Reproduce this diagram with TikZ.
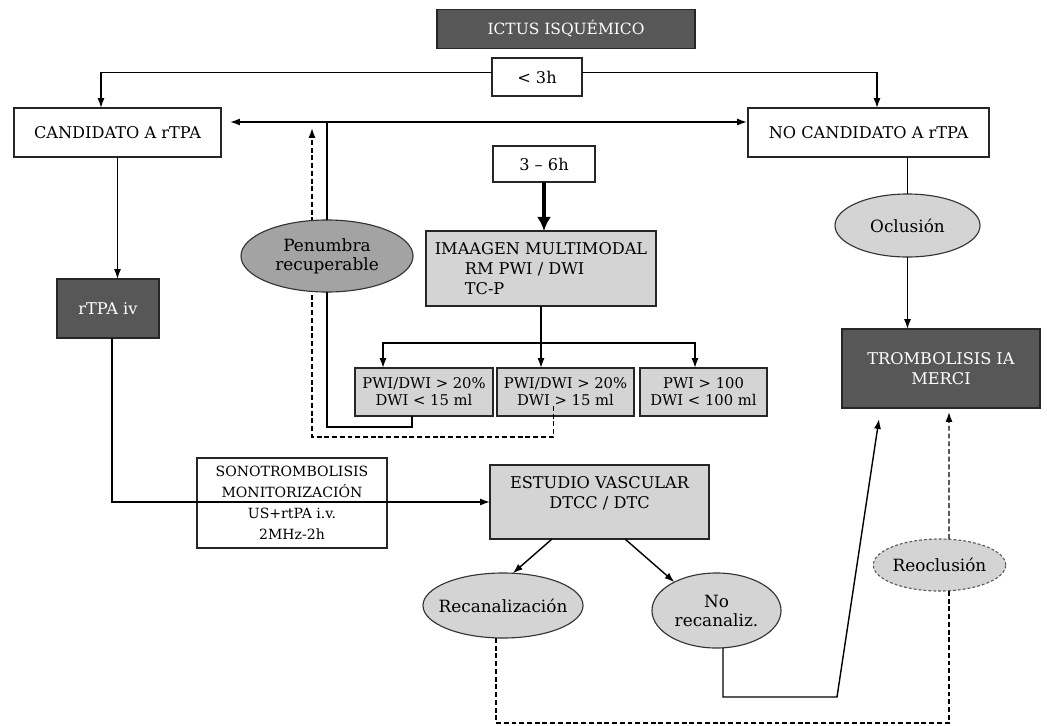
\documentclass[tikz,border=0pt]{standalone}
\usepackage{fontspec}
\setmainfont{DejaVu Serif}
\usetikzlibrary{calc,shapes.geometric,arrows.meta}

\definecolor{boxdark}{HTML}{575757}
\definecolor{boxlight}{HTML}{D4D4D4}
\definecolor{boxmid}{HTML}{A3A3A3}

\begin{document}
\begin{tikzpicture}[x=0.025cm, y=-0.025cm, inner sep=0pt, outer sep=0pt,
    every node/.style={font=\fontsize{11.5}{14}\selectfont},
    >={Latex[length=7pt,width=5pt]},
    plainbox/.style={draw=black!85, line width=1.1pt, fill=white, align=center},
    greybox/.style={plainbox, fill=boxlight},
    darkbox/.style={plainbox, fill=boxdark, text=white},
    smalltxt/.style={font=\fontsize{10.5}{12}\selectfont},
    bubble/.style={ellipse, draw=black!80, line width=0.8pt, fill=boxlight, align=center, font=\fontsize{12}{13.5}\selectfont},
    wire/.style={line width=1pt},
    link/.style={wire, ->},
    dashwire/.style={wire, dash pattern=on 3.5pt off 2pt}]

    \useasboundingbox (0,0) rectangle (1047,725);

    % entry
    \node[darkbox, minimum width=6.45cm, minimum height=0.975cm, font=\fontsize{11}{13}\selectfont] (ictus) at (566,29) {ICTUS ISQUÉMICO};
    \node[plainbox, minimum width=2.25cm, minimum height=0.95cm] (lt3) at (537,77) {< 3h};
    \node[plainbox, minimum width=5.175cm, minimum height=1.225cm] (cand) at (117.5,132.5) {CANDIDATO A rTPA};
    \node[plainbox, minimum width=6.025cm, minimum height=1.225cm] (nocand) at (868.5,132.5) {NO CANDIDATO A rTPA};

    % 3-6h branch
    \node[plainbox, minimum width=2.55cm, minimum height=0.9cm] (tres6) at (544,164) {3 -- 6h};
    \node[greybox, align=left, minimum width=5.75cm, minimum height=1.875cm] (imagen) at (541,268.5)
    {IMAAGEN MULTIMODAL\\\hspace*{0.75cm}RM PWI / DWI\\\hspace*{0.75cm}TC-P};
    \node[greybox, smalltxt, minimum width=3.45cm, minimum height=1.2cm] (pwi1) at (424,392) {PWI/DWI > 20\%\\DWI < 15 ml};
    \node[greybox, smalltxt, minimum width=3.425cm, minimum height=1.2cm] (pwi2) at (565.5,392) {PWI/DWI > 20\%\\DWI > 15 ml};
    \node[greybox, smalltxt, minimum width=3.175cm, minimum height=1.2cm] (pwi3) at (703.5,392) {PWI > 100\\DWI < 100 ml};

    % left / right columns
    \node[darkbox, minimum width=2.55cm, minimum height=1.475cm] (rtpa) at (108,308.5) {rTPA iv};
    \node[bubble, minimum width=3.625cm, minimum height=1.575cm] (oclu) at (907.5,225.5) {Oclusión};
    \node[darkbox, minimum width=4.95cm, minimum height=1.975cm] (trombo) at (941,368.5) {TROMBOLISIS IA\\MERCI};

    % bottom
    \node[plainbox, fill=none, minimum width=4.75cm, minimum height=2.25cm, font=\fontsize{10}{15}\selectfont] (sono) at (292,503)
    {SONOTROMBOLISIS\\MONITORIZACIÓN\\US+rtPA i.v.\\2MHz-2h};
    \node[greybox, minimum width=5.475cm, minimum height=1.85cm] (estudio) at (599.5,502) {ESTUDIO VASCULAR\\DTCC / DTC\\[0pt]\mbox{}};
    \node[bubble, inner xsep=-0.2cm, minimum width=4cm, minimum height=1.625cm] (reca) at (503,605.5) {Recanalización};
    \node[bubble, minimum width=3.225cm, minimum height=1.875cm] (norec) at (716.5,610.5) {No\\recanaliz.};
    \node[bubble, draw=black!65, dash pattern=on 2pt off 1.5pt, minimum width=3.225cm, minimum height=1.3cm] (reoc) at (939.5,565) {Reoclusión};

    \coordinate (jn) at (327,122);
    \coordinate (kink) at (837,697);

    % < 3h split
    \draw[link] ($(lt3.west)+(0,-4.5)$) -| ($(cand.north)+(-16.5,0)$);
    \draw[link] ($(lt3.east)+(0,-4.5)$) -| ($(nocand.north)+(8.5,0)$);
    \draw[wire, <->] ($(cand.east)+(9,-10.5)$) -- ($(nocand.west)+(-1,-10.5)$);

    % multimodal imaging
    \draw[line width=2.8pt, -{Latex[length=10pt,width=10pt]}] (tres6.south) -- (tres6.south |- imagen.north);
    \coordinate (split) at ($(imagen.south)+(0,37)$);
    \draw[link] (imagen.south) -- (imagen.south |- pwi2.north);
    \draw[link] (split) -| ($(pwi1.north)+(-41,0)$);
    \draw[link] (split) -| ($(pwi3.north)+(-8.5,0)$);

    % back to candidate
    \draw[dashwire, ->] ($(pwi2.south)+(-12,-10)$) -- ++(0,31) -| ($(jn)+(-15,6)$);
    \node[bubble, fill=boxmid, minimum width=4.3cm, minimum height=1.8cm] (penumbra) at (327,256) {Penumbra\\recuperable};
    \draw[wire] ($(pwi1.south)+(-12,0)$) -- ++(0,11) -| (penumbra.south);
    \draw[wire] (penumbra.north) -- (jn);

    % rTPA path
    \draw[link] (cand.south) -- (cand.south |- rtpa.north);
    \draw[link] ($(rtpa.south)+(4,0)$) |- (estudio.west);
    \draw[link] ($(estudio.south)+(-47.5,0)$) -- (reca.73);
    \draw[link] ($(estudio.south)+(25.5,0)$) -- (norec.146);

    % to IA thrombolysis
    \draw[wire] (nocand.south -| oclu.north) -- (oclu.north);
    \draw[link] (oclu.south) -- (oclu.south |- trombo.north);
    \draw[link] ($(norec.south)+(6.5,0)$) |- (kink) -- ($(trombo.south)+(-62,11)$);
    \draw[dashwire] ($(reca.south)+(-7,0)$) -- ++(0,85) -| ($(reoc.south)+(9.5,0)$);
    \draw[dashwire, ->] ($(reoc.north)+(9.5,0)$) -- ($(trombo.south)+(8,4)$);

\end{tikzpicture}
\end{document}
